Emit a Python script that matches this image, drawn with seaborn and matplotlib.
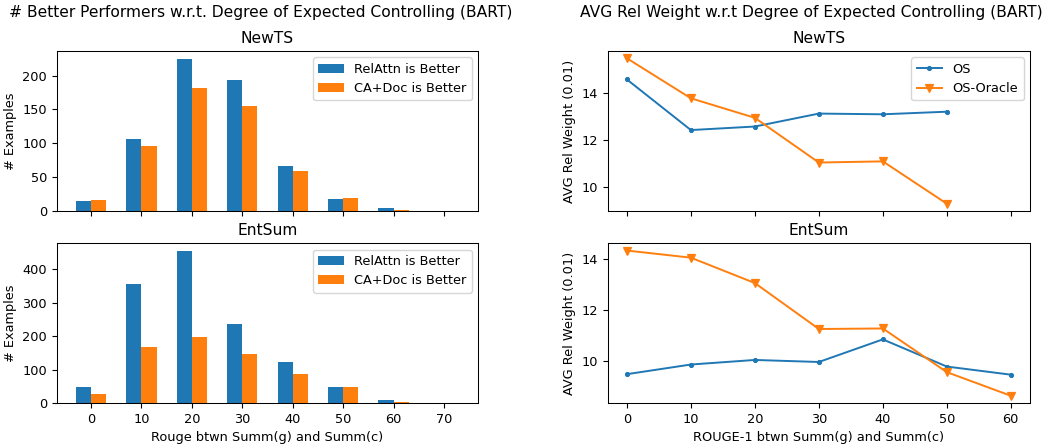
import matplotlib
matplotlib.use("Agg")
import matplotlib.pyplot as plt
import seaborn as sns
import pandas as pd

# ---- data ----
rouge_bins = [0, 10, 20, 30, 40, 50, 60, 70]
bar_labels = ["RelAttn is Better", "CA+Doc is Better"]
newts_relattn = [15, 106, 225, 193, 66, 18, 4, 0.6]
newts_cadoc = [16, 96, 181, 155, 59, 19, 1.5, 0.6]
entsum_relattn = [48, 356, 455, 236, 123, 48, 9, 0.6]
entsum_cadoc = [27, 168, 198, 147, 87, 48, 3, 0.6]

rouge1_bins_newts = [0, 10, 20, 30, 40, 50]
newts_os = [14.56, 12.41, 12.56, 13.11, 13.08, 13.19]
newts_oracle = [15.46, 13.76, 12.93, 11.03, 11.08, 9.28]
rouge1_bins_entsum = [0, 10, 20, 30, 40, 50, 60]
entsum_os = [9.48, 9.86, 10.04, 9.96, 10.85, 9.78, 9.46]
entsum_oracle = [14.35, 14.07, 13.07, 11.26, 11.28, 9.56, 8.63]
line_labels = ["OS", "OS-Oracle"]

sns.set_style("ticks")
plt.rcParams.update(matplotlib.rcParamsDefault)
plt.rcParams["font.family"] = ["DejaVu Sans"]
plt.rcParams["font.size"] = 9.3
plt.rcParams["lines.linewidth"] = 1.4
plt.rcParams["axes.linewidth"] = 0.75

W, H = 1048, 446
fig = plt.figure(figsize=(W / 100, H / 100), dpi=100)


def px_axes(x0, y0, x1, y1, sharex=None):
    return fig.add_axes([x0 / W, 1 - y1 / H, (x1 - x0) / W, (y1 - y0) / H], sharex=sharex)


axL1 = px_axes(56.7, 51, 478.3, 211)
axL2 = px_axes(56.7, 243.3, 478.3, 403, sharex=axL1)
axR1 = px_axes(607.7, 51, 1030, 211)
axR2 = px_axes(607.7, 243.3, 1030, 403, sharex=axR1)

palette = ["#1f77b4", "#ff7f0e"]


def bar_panel(ax, a, b, title):
    df = pd.DataFrame({
        "rouge": rouge_bins * 2,
        "count": list(a) + list(b),
        "who": [bar_labels[0]] * len(a) + [bar_labels[1]] * len(b),
    })
    sns.barplot(data=df, x="rouge", y="count", hue="who", native_scale=True,
                width=0.6, dodge=True, palette=palette, errorbar=None,
                saturation=1, ax=ax)
    sns.move_legend(ax, "upper right", title=None)
    ax.set_title(title)
    ax.set_ylabel("# Examples")
    ax.set_xlabel("")
    ax.set_xticks(rouge_bins)
    ax.margins(x=0.05)


bar_panel(axL1, newts_relattn, newts_cadoc, "NewTS")
bar_panel(axL2, entsum_relattn, entsum_cadoc, "EntSum")
axL1.tick_params(labelbottom=False)
axL2.set_xlabel("Rouge btwn Summ(g) and Summ(c)")


def line_panel(ax, xs, os_, orc, title, legend):
    df = pd.DataFrame({
        "rouge": list(xs) * 2,
        "w": list(os_) + list(orc),
        "m": [line_labels[0]] * len(xs) + [line_labels[1]] * len(xs),
    })
    sns.lineplot(data=df, x="rouge", y="w", hue="m", style="m",
                 markers={"OS": ".", "OS-Oracle": "v"}, dashes=False,
                 palette=palette, ax=ax, legend=legend, markersize=5.6)
    for ln in ax.lines:
        ln.set_markeredgecolor(ln.get_color())
        ln.set_markeredgewidth(0.9)
    if legend:
        leg = ax.get_legend()
        handles = list(leg.legend_handles)
        labels = [t.get_text() for t in leg.get_texts()]
        for h in handles:
            try:
                h.set_markeredgecolor(h.get_color())
                h.set_markeredgewidth(0.9)
            except Exception:
                pass
        leg.remove()
        ax.legend(handles, labels, loc="upper right")
    ax.set_title(title)
    ax.set_ylabel("AVG Rel Weight (0.01)")
    ax.set_xlabel("")


line_panel(axR1, rouge1_bins_newts, newts_os, newts_oracle, "NewTS", True)
line_panel(axR2, rouge1_bins_entsum, entsum_os, entsum_oracle, "EntSum", False)
axR2.set_xticks(rouge1_bins_entsum)
axR1.tick_params(labelbottom=False)
axR2.set_xlabel("ROUGE-1 btwn Summ(g) and Summ(c)")

fig.text(260.5 / W, 1 - 12 / H, "# Better Performers w.r.t. Degree of Expected Controlling (BART)",
         ha="center", va="center", fontsize=11.2)
fig.text(811 / W, 1 - 12 / H, "AVG Rel Weight w.r.t Degree of Expected Controlling (BART)",
         ha="center", va="center", fontsize=11.2)

fig.savefig("out.png", dpi=100)
